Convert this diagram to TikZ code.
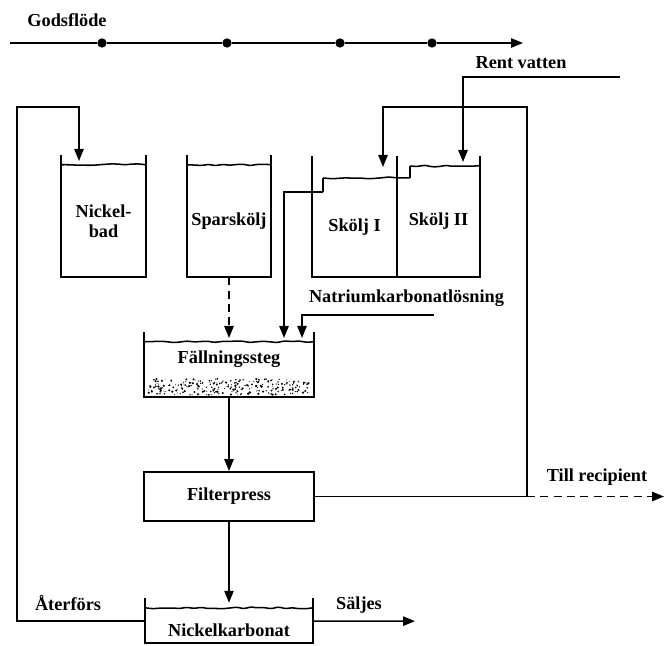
\documentclass[tikz,border=0pt]{standalone}
\usepackage{fontspec}
\setmainfont{Liberation Serif}
\usetikzlibrary{positioning,arrows.meta,calc,decorations.pathmorphing}
\newcommand{\lblfont}{\fontsize{15.6}{17}\selectfont\bfseries}
\tikzset{
  tank/.style={rectangle,inner sep=0pt,align=center,font=\lblfont},
  press/.style={rectangle,draw,line width=1.6pt,inner sep=0pt,font=\lblfont},
  lbl/.style={inner sep=0pt,font=\lblfont},
  station/.style={circle,fill,inner sep=0pt,minimum size=2.8mm},
  wall/.style={line width=1.6pt,line join=miter},
  level/.style={line width=1.3pt},
  liquid/.style={level,decorate,
                 decoration={random steps,segment length=6pt,amplitude=0.9pt},
                 rounded corners=2pt},
  flow/.style={-{Triangle[length=3.6mm,width=2.8mm]},line width=1.4pt},
  dashflow/.style={flow,dash pattern=on 2.4mm off 1.6mm},
}

\begin{document}
\begin{tikzpicture}
\useasboundingbox (0,0) rectangle (19.95,19.38);
\pgfmathsetseed{11}

% Godsflöde (top line)
\node[lbl] (godsl) at (2.01,18.78) {Godsflöde};
\coordinate (gs) at (0.30,18.09);
\coordinate (ge) at (15.69,18.09);
\node[station] (d1) at (3.06,18.09) {};
\node[station] (d2) at (6.81,18.09) {};
\node[station] (d3) at (10.20,18.09) {};
\node[station] (d4) at (12.96,18.09) {};
\draw[flow] (gs) -- (d1) -- (d2) -- (d3) -- (d4) -- (ge);

% Tanks (top row)
\node[tank,minimum width=2.55cm,minimum height=3.36cm] (nb) at (3.105,12.75) {Nickel-\\bad};
\node[tank,minimum width=2.52cm,minimum height=3.36cm] (sp) at (6.87,12.75) {Sparskölj};
\node[tank,minimum width=2.55cm,minimum height=2.97cm] (s1) at (10.635,12.555) {Skölj I};
\node[tank,minimum width=2.49cm,minimum height=3.33cm] (s2) at (13.155,12.735) {Skölj II};

% Treatment column
\node[tank,minimum width=5.07cm,minimum height=1.65cm,text depth=0.75cm] (fs) at (6.87,8.295) {Fällningssteg};
\node[press,minimum width=5.1cm,minimum height=1.47cm] (fp) at (6.87,4.485) {Filterpress};
\node[tank,minimum width=5.04cm,minimum height=1.05cm,text height=0.64cm] (nk) at (6.87,0.615) {Nickelkarbonat};

% Walls and liquid levels
\foreach \t in {nb,sp,fs,nk}
  \draw[wall] ([yshift=3mm]\t.north west) |- (\t.south east) -- ([yshift=3mm]\t.north east);
\foreach \t in {nb,sp,fs,nk}
  \draw[liquid] (\t.north west) -- (\t.north east);
\draw[wall] ([yshift=6.6mm]s1.north west) |- (s2.south east) -- ([yshift=3mm]s2.north east);
\draw[wall] (s1.south east) -- ([yshift=6.6mm]s1.north east);
\coordinate (s1out) at (9.69,13.62);
\draw[liquid] (s2.north east) -- (12.30,14.40);
\draw[level] (12.30,14.40) -- (12.30,14.04);
\draw[liquid] (12.30,14.04) -- (9.69,14.04);
\draw[level] (9.69,14.04) -- (s1out);

% Sediment
\foreach \i in {1,...,260}
  \fill ($(fs.south west)+(0.12+4.83*rnd,0.07+0.48*rnd)$) circle ({0.35pt+0.7pt*rnd});

% Labels
\node[lbl] (rentl) at (15.63,17.49) {Rent vatten};
\node[lbl] (natl)  at (12.195,10.44) {Natriumkarbonatlösning};
\node[lbl] (tilll) at (17.91,5.07) {Till recipient};
\node[lbl] (aterl) at (2.04,1.29) {Återförs};
\node[lbl] (saljl) at (10.77,1.23) {Säljes};

% Free ends
\coordinate (ret)   at (0.51,16.17);
\coordinate (nbin)  at (2.37,14.55);
\coordinate (rv)    at (18.60,17.07);
\coordinate (s2in)  at (13.89,14.52);
\coordinate (loop)  at (15.81,16.17);
\coordinate (s1in)  at (11.49,14.37);
\coordinate (split) at (15.81,4.485);
\coordinate (recip) at (19.92,4.485);
\coordinate (fsin1) at (8.52,9.24);
\coordinate (nat)   at (13.02,9.93);
\coordinate (fsin2) at (9.06,9.24);
\coordinate (sale)  at (12.45,0.745);

% Edges
\draw[flow] ([yshift=1.3mm]nk.west) -| (ret) -| (nbin);
\draw[flow] (rv) -| (s2in);
\draw[flow] (fp.east) -| (loop) -| (s1in);
\draw[dashflow] (split) -- (recip);
\draw[flow] (s1out) -| (fsin1);
\draw[flow] (nat) -| (fsin2);
\draw[dashflow] (sp.south) -- (sp.south |- fsin1);
\draw[flow] (fs.south) -- (fp.north);
\draw[flow] (fp.south) -- ([yshift=1.5mm]nk.north);
\draw[flow] ([yshift=1.3mm]nk.east) -- (sale);

\end{tikzpicture}
\end{document}
